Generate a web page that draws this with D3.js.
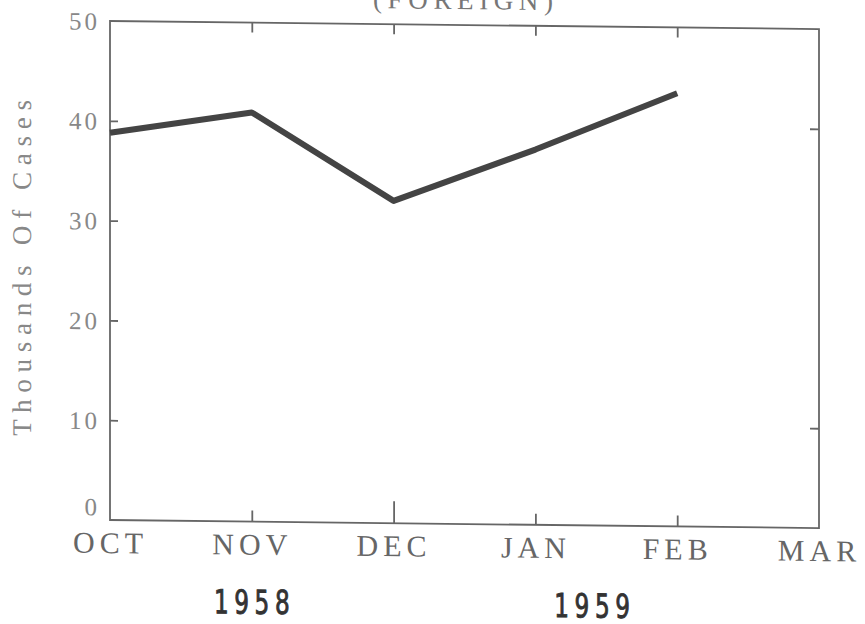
<!DOCTYPE html>
<html lang="en">
<head>
<meta charset="UTF-8">
<title>Thousands Of Cases (Foreign)</title>
<style>
* { margin: 0; padding: 0; }
body { background: #fff; width: 865px; height: 624px; overflow: hidden; }
svg { display: block; }
.serif { font-family: "Liberation Serif", "DejaVu Serif", serif; }
.axis path, .axis line { stroke: #666; stroke-width: 1.8; }
</style>
</head>
<body>
<div id="chart"></div>
<script src="https://cdn.jsdelivr.net/npm/d3@7"></script>
<script>
// Values (thousands of cases)
var months = ["OCT", "NOV", "DEC", "JAN", "FEB", "MAR"];
var cases = [38.8, 41.0, 32.3, 37.6, 43.4];
var yTicks = [0, 10, 20, 30, 40, 50];
var rightTicks = [10, 40];
var years = [{ label: "1958", at: "NOV", shift: 0 }, { label: "1959", at: "JAN", shift: 0.4 }];

(function() {
	var width = 865, height = 624;
	var plotLeft = 110, plotRight = 819, plotTop = 21, plotBottom = 520;

	var svg = d3.select("#chart").append("svg")
		.attr("width", width)
		.attr("height", height);

	// the scan is sheared: horizontals drop to the right, verticals stay upright
	var g = svg.append("g").attr("transform",
		"translate(" + plotLeft + "," + plotBottom + ") skewY(0.65) translate(" + (-plotLeft) + "," + (-plotBottom) + ")");

	var x = d3.scalePoint().domain(months).range([plotLeft, plotRight]);
	var y = d3.scaleLinear().domain([0, 50]).range([plotBottom, plotTop]);
	var step = x.step();

	// frame
	g.append("rect")
		.attr("x", plotLeft).attr("y", plotTop)
		.attr("width", plotRight - plotLeft).attr("height", plotBottom - plotTop)
		.attr("fill", "none").attr("stroke", "#666").attr("stroke-width", 1.8);

	// left axis: inward ticks, labels outside
	var yAxis = g.append("g").attr("class", "axis serif")
		.attr("transform", "translate(" + plotLeft + ",0)")
		.call(d3.axisLeft(y).tickValues(yTicks).tickSize(-8).tickPadding(10));
	yAxis.select(".domain").remove();
	yAxis.selectAll(".tick").filter(function(d) { return d === 0 || d === 50; }).select("line").remove();
	yAxis.selectAll("text")
		.attr("fill", "#888")
		.attr("font-size", 25)
		.attr("letter-spacing", 3)
		.attr("dy", function(d) { return d === 0 ? "-0.2em" : "0.34em"; });

	// right axis ticks
	g.append("g").attr("class", "axis")
		.attr("transform", "translate(" + plotRight + ",0)")
		.call(d3.axisRight(y).tickValues(rightTicks).tickSize(-9).tickFormat(""))
		.select(".domain").remove();

	// top ticks
	var inner = months.slice(1, -1);
	g.append("g").attr("class", "axis")
		.attr("transform", "translate(0," + plotTop + ")")
		.call(d3.axisTop(x).tickValues(inner).tickSize(-10).tickFormat(""))
		.select(".domain").remove();

	// bottom axis: month labels, upward ticks (DEC tick is longer)
	var xAxis = g.append("g").attr("class", "axis serif")
		.attr("transform", "translate(0," + plotBottom + ")")
		.call(d3.axisBottom(x).tickSize(0));
	xAxis.select(".domain").remove();
	xAxis.selectAll(".tick line")
		.attr("y2", function(d) { return inner.indexOf(d) < 0 ? 0 : (d === "DEC" ? -22 : -11); });
	xAxis.selectAll(".tick text")
		.attr("y", 33).attr("dy", 0)
		.attr("fill", "#666")
		.attr("font-size", 30)
		.attr("letter-spacing", 5);

	// y title
	g.append("text").attr("class", "serif")
		.attr("transform", "translate(31,269) rotate(-90)")
		.attr("text-anchor", "middle")
		.attr("fill", "#888")
		.attr("font-size", 27)
		.attr("textLength", 336)
		.attr("lengthAdjust", "spacing")
		.text("Thousands Of Cases");

	// title, mostly cut off at the top of the scan
	g.append("text").attr("class", "serif")
		.attr("x", 463).attr("y", 5)
		.attr("text-anchor", "middle")
		.attr("fill", "#777")
		.attr("font-size", 27)
		.attr("textLength", 180)
		.attr("lengthAdjust", "spacing")
		.text("(FOREIGN)");

	// year labels, condensed
	g.selectAll(".year").data(years).join("g")
		.attr("class", "year")
		.attr("transform", function(d) { return "translate(" + (x(d.at) + d.shift * step) + ",612) scale(0.78,1)"; })
		.append("text")
		.attr("text-anchor", "middle")
		.attr("fill", "#333")
		.attr("stroke", "#333")
		.attr("stroke-width", 0.9)
		.attr("font-family", "'DejaVu Sans Condensed', 'Liberation Sans Narrow', sans-serif")
		.attr("font-size", 33)
		.attr("textLength", 97)
		.attr("lengthAdjust", "spacing")
		.text(function(d) { return d.label; });

	// data line
	var line = d3.line()
		.x(function(d, i) { return x(months[i]); })
		.y(function(d) { return y(d); });

	g.append("path")
		.datum(cases)
		.attr("d", line)
		.attr("fill", "none")
		.attr("stroke", "#444")
		.attr("stroke-width", 6)
		.attr("stroke-linejoin", "round");
})();
</script>
</body>
</html>
